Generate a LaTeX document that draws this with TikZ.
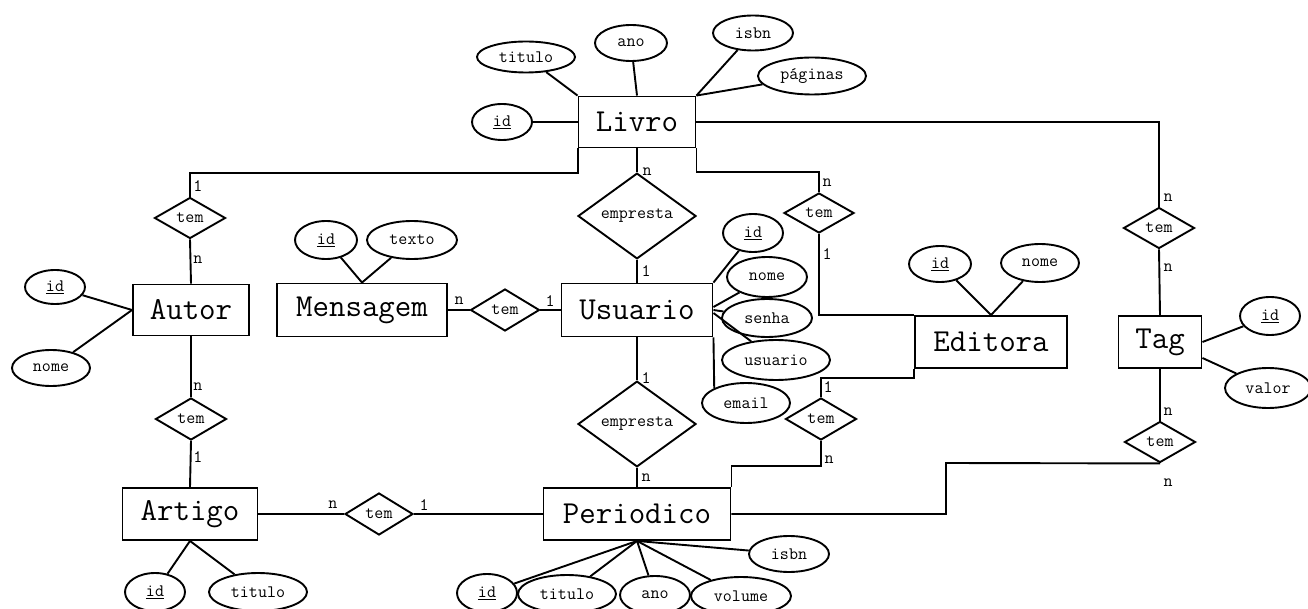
\documentclass[tikz,border=0pt]{standalone}
\usepackage{fontspec}
\usetikzlibrary{shapes.geometric,calc}
\begin{document}
\begin{tikzpicture}[x=1pt,y=-1pt,line width=1.9pt,
  ent/.style={draw,rectangle,inner sep=0pt,font=\ttfamily\fontsize{32}{34}\selectfont},
  attr/.style={draw,ellipse,inner sep=0pt,font=\ttfamily\fontsize{17.5}{19}\selectfont},
  rel/.style={draw,diamond,inner sep=0pt,font=\ttfamily\fontsize{17.5}{19}\selectfont},
  card/.style={inner sep=0pt,font=\ttfamily\fontsize{17.5}{19}\selectfont}]
\useasboundingbox[fill=white] (0,0) rectangle (1308,609);

% entities
\node[ent,minimum width=117pt,minimum height=51pt] (l) at (637,122) {Livro};
\node[ent,minimum width=116pt,minimum height=51pt] (a) at (191,310) {Autor};
\node[ent,minimum width=170pt,minimum height=53pt] (m) at (362,310) {Mensagem};
\node[ent,minimum width=151pt,minimum height=53pt] (u) at (637,310) {Usuario};
\node[ent,minimum width=152pt,minimum height=52pt] (ed) at (991,342) {Editora};
\node[ent,minimum width=83pt,minimum height=52pt] (t) at (1160,342) {Tag};
\node[ent,minimum width=135pt,minimum height=52pt] (ar) at (190,514) {Artigo};
\node[ent,minimum width=187pt,minimum height=52pt] (p) at (637,514) {Periodico};

% relationships
\node[rel,minimum width=71pt,minimum height=41pt] (r1) at (190,218) {tem};
\node[rel,minimum width=118pt,minimum height=71pt] (e1) at (637,216) {empresta};
\node[rel,minimum width=70pt,minimum height=40pt] (r3) at (819,213) {tem};
\node[rel,minimum width=71pt,minimum height=41pt] (r4) at (1159,228) {tem};
\node[rel,minimum width=69pt,minimum height=42pt] (r5) at (505,310) {tem};
\node[rel,minimum width=71pt,minimum height=42pt] (r6) at (191,419) {tem};
\node[rel,minimum width=118pt,minimum height=70pt] (e2) at (637,424) {empresta};
\node[rel,minimum width=68pt,minimum height=42pt] (r8) at (379,514) {tem};
\node[rel,minimum width=71pt,minimum height=42pt] (r9) at (821,419) {tem};
\node[rel,minimum width=71pt,minimum height=41pt] (r10) at (1160,442) {tem};

% attributes: Livro
\node[attr,minimum width=98pt,minimum height=31pt] (ltit) at (526,57) {titulo};
\node[attr,minimum width=72pt,minimum height=36pt] (lano) at (631,43) {ano};
\node[attr,minimum width=80pt,minimum height=35pt] (lisbn) at (753,33) {isbn};
\node[attr,minimum width=108pt,minimum height=37pt] (lpag) at (812,76) {páginas};
\node[attr,minimum width=60pt,minimum height=36pt] (lid) at (502,122) {\underline{id}};
% Autor
\node[attr,minimum width=60pt,minimum height=34pt] (aid) at (55,287) {\underline{id}};
\node[attr,minimum width=78pt,minimum height=36pt] (anome) at (51,368) {nome};
% Mensagem
\node[attr,minimum width=62pt,minimum height=38pt] (mid) at (326,240) {\underline{id}};
\node[attr,minimum width=90pt,minimum height=38pt] (mtexto) at (412,240) {texto};
% Usuario
\node[attr,minimum width=60pt,minimum height=38pt] (uid) at (753,233) {\underline{id}};
\node[attr,minimum width=80pt,minimum height=40pt] (unome) at (767,277) {nome};
\node[attr,minimum width=90pt,minimum height=38pt] (usenha) at (767,318) {senha};
\node[attr,minimum width=108pt,minimum height=40pt] (uusu) at (776,360) {usuario};
\node[attr,minimum width=88pt,minimum height=40pt] (uemail) at (746,403) {email};
% Editora
\node[attr,minimum width=62pt,minimum height=36pt] (edid) at (940,264) {\underline{id}};
\node[attr,minimum width=78pt,minimum height=38pt] (ednome) at (1040,263) {nome};
% Tag
\node[attr,minimum width=60pt,minimum height=38pt] (tid) at (1270,316) {\underline{id}};
\node[attr,minimum width=86pt,minimum height=40pt] (tvalor) at (1268,388) {valor};
% Artigo
\node[attr,minimum width=60pt,minimum height=38pt] (arid) at (155,592) {\underline{id}};
\node[attr,minimum width=98pt,minimum height=38pt] (artit) at (258,592) {titulo};
% Periodico
\node[attr,minimum width=60pt,minimum height=38pt] (pid) at (487,593) {\underline{id}};
\node[attr,minimum width=98pt,minimum height=38pt] (ptit) at (567,594) {titulo};
\node[attr,minimum width=70pt,minimum height=38pt] (pano) at (655,595) {ano};
\node[attr,minimum width=100pt,minimum height=38pt] (pvol) at (741,596) {volume};
\node[attr,minimum width=80pt,minimum height=36pt] (pisbn) at (789,554) {isbn};

% attribute lines
\draw (ltit) -- (l.north west);
\draw (lano) -- (l.north);
\draw (lisbn) -- (l.north east);
\draw (lpag) -- (l.north east);
\draw (lid) -- (l.west);
\draw (aid) -- (a.west);
\draw (anome) -- (a.west);
\draw (mid) -- (m.north);
\draw (mtexto) -- (m.north);
\draw (uid) -- (u.north east);
\draw (unome) -- ($(u.east)+(0,-3)$);
\draw (usenha) -- (u.east);
\draw (uusu) -- ($(u.east)+(0,3)$);
\draw (u.south east) -- (uemail.155);
\draw (edid) -- (ed.north);
\draw (ednome) -- (ed.north);
\draw (tid) -- (t.east);
\draw (tvalor) -- ($(t.east)+(0,16)$);
\draw (arid) -- (ar.south);
\draw (artit) -- (ar.south);
\draw (pid) -- (p.south);
\draw (ptit) -- (p.south);
\draw (pano) -- (p.south);
\draw (pvol) -- (p.south);
\draw (pisbn) -- (p.south);

% relationship connectors
\coordinate (bend10) at (946,463);
\draw (l.south west) -- ++(0,25) -| (r1.north);
\draw (r1.south) -- (a.north);
\draw (l.south) -- (e1.north);
\draw (e1.south) -- (u.north);
\draw (l.south east) -- ++(0,24) -| (r3.north);
\draw (r3.south) |- (ed.north west);
\draw (l.east) -| (r4.north);
\draw (r4.south) -- (t.north);
\draw (m.east) -- (r5.west);
\draw (r5.east) -- (u.west);
\draw (a.south) -- (r6.north);
\draw (r6.south) -- (ar.north);
\draw (u.south) -- (e2.north);
\draw (e2.south) -- (p.north);
\draw (ar.east) -- (r8.west);
\draw (r8.east) -- (p.west);
\draw (ed.south west) -- ++(0,9) -| (r9.north);
\draw (r9.south) -- ++(0,25) -| (p.north east);
\draw (t.south) -- (r10.north);
\draw (r10.south) -- (bend10) |- (p.east);

% cardinalities
\node[card] (c1a) at (198,186) {1};
\node[card] (c1b) at (198,260) {n};
\node[card] (c2a) at (647,172) {n};
\node[card] (c2b) at (646,271) {1};
\node[card] (c3a) at (827,183) {n};
\node[card] (c3b) at (827,254) {1};
\node[card] (c4a) at (1168,198) {n};
\node[card] (c4b) at (1168,268) {n};
\node[card] (c5a) at (459,301) {n};
\node[card] (c5b) at (550,301) {1};
\node[card] (c6a) at (198,387) {n};
\node[card] (c6b) at (198,457) {1};
\node[card] (c7a) at (646,378) {1};
\node[card] (c7b) at (646,478) {n};
\node[card] (c8a) at (333,505) {n};
\node[card] (c8b) at (424,505) {1};
\node[card] (c9a) at (828,387) {1};
\node[card] (c9b) at (829,460) {n};
\node[card] (c10a) at (1168,412) {n};
\node[card] (c10b) at (1168,483) {n};
\end{tikzpicture}
\end{document}
